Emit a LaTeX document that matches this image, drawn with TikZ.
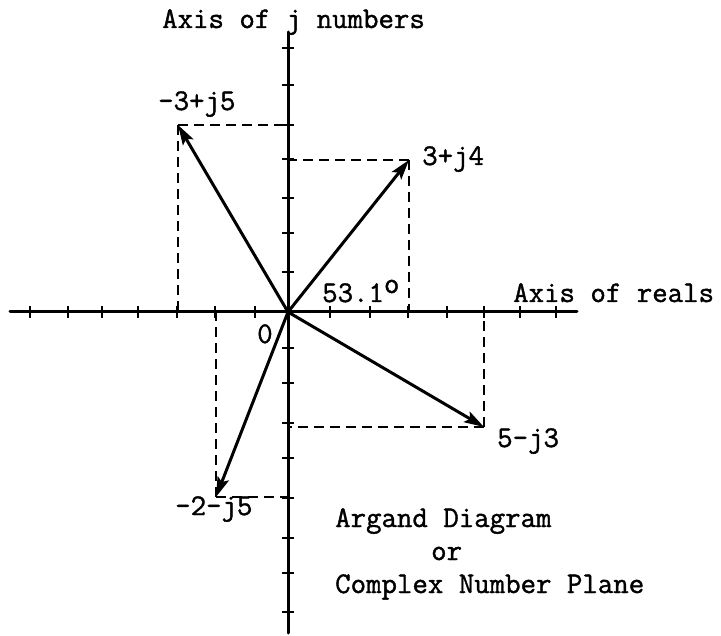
\documentclass[tikz,border=0pt]{standalone}
\usepackage{fontspec}
\newfontfamily\typewr[FakeBold=1.3]{Latin Modern Mono}
\usetikzlibrary{arrows.meta}
\tikzset{
  axisline/.style={line width=3pt, line cap=round},
  tickmark/.style={line width=2.4pt},
  vec/.style={line width=3pt, -{Stealth[length=20pt,width=12pt,inset=4pt]}},
  proj/.style={line width=2pt, dash pattern=on 10pt off 6pt},
  lbl/.style={inner sep=0pt, anchor=base west, font=\typewr\fontsize{30}{34}\selectfont},
}
\begin{document}
\begin{tikzpicture}[x=1pt,y=-1pt]
\useasboundingbox (0,0) rectangle (721,636);
% axes
\coordinate (O) at (288,312);
\coordinate (xl) at (10,312);
\coordinate (xr) at (577,312);
\coordinate (yt) at (288,32);
\coordinate (yb) at (288,633);
\draw[axisline] (xl) -- (xr);
\draw[axisline] (yt) -- (yb);
\foreach \x in {30,68,102,138,177,215,255,330,370,408,447,484,520,556}
  \draw[tickmark] (\x,306) -- (\x,318);
\foreach \y in {48,85,125,159,198,233,272,348,383,423,458,498,538,573,612}
  \draw[tickmark] (282,\y) -- (294,\y);
% tips
\coordinate (A) at (178,125); % -3+j5
\coordinate (B) at (409,160); % 3+j4
\coordinate (C) at (484,427); % 5-j3
\coordinate (D) at (216,497); % -2-j5
% projections
\draw[proj] (A) -- (A -| O);
\draw[proj] (A) -- (A |- O);
\draw[proj] (B) -- (B -| O);
\draw[proj] (B) -- (B |- O);
\draw[proj] (C) -- (C -| O);
\draw[proj] (C) -- (C |- O);
\draw[proj] (D) -- (D -| O);
\draw[proj] (D) -- (D |- O);
% vectors
\draw[vec] (O) -- (A);
\draw[vec] (O) -- (B);
\draw[vec] (O) -- (C);
\draw[vec] (O) -- (D);
% labels
\node[lbl] (ly) at (162,28) {Axis of j numbers};
\node[lbl] (lx) at (513,302) {Axis of reals};
\node[lbl] (lA) at (158,110) {\textendash3+j5};
\node[lbl] (lB) at (422,165) {3+j4};
\node[lbl] (lC) at (497,447) {5\textendash j3};
\node[lbl] (lD) at (175,515) {\textendash2\textendash j5};
\node[lbl] (lO) at (257,343) {0};
\node[lbl] (ang) at (322,302) {53.1\raisebox{0.3em}{o}};
\node[lbl] (t1) at (335,527) {Argand Diagram};
\node[lbl] (t2) at (431,560) {or};
\node[lbl] (t3) at (335,593) {Complex Number Plane};
\end{tikzpicture}
\end{document}
